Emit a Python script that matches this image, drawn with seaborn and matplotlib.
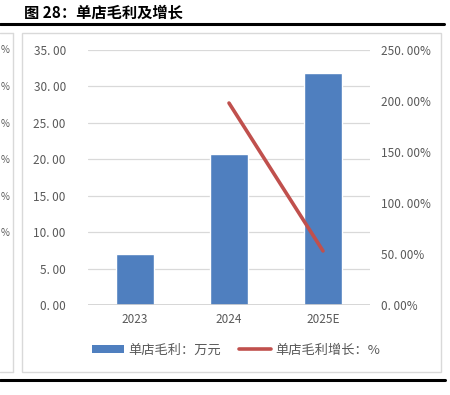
import matplotlib
matplotlib.use('Agg')
import matplotlib.pyplot as plt
from matplotlib.lines import Line2D
from matplotlib.patches import Patch, Rectangle
import seaborn as sns
import pandas as pd

# data
years = ['2023', '2024', '2025E']
gross_profit = [7.0, 20.7, 31.8]          # 万元
growth_years = ['2024', '2025E']
growth_pct = [198.0, 53.0]                 # %

left_ticks = [0, 5, 10, 15, 20, 25, 30, 35]
right_ticks = [0, 50, 100, 150, 200, 250]

sns.set_theme(style='white')
plt.rcParams['font.family'] = ['Noto Sans CJK SC', 'DejaVu Sans']

BLUE = '#4f7fbf'
RED = '#c0504d'
GREY = '#595959'

fig = plt.figure(figsize=(4.5, 3.95), dpi=100)
W, H = 450, 395


def fx(px):
    return px / W


def fy(py):
    return 1 - py / H


# title + rules
fig.text(fx(24), fy(13), '图 28：单店毛利及增长', fontsize=11, fontweight='bold',
         color='black', va='center', ha='left')
fig.add_artist(Line2D([fx(0), fx(444)], [fy(24), fy(24)], color='black', lw=2.2))
fig.add_artist(Line2D([fx(0), fx(445)], [fy(380), fy(380)], color='black', lw=2.2))

# chart frame and the clipped neighbour frame
fig.add_artist(Rectangle((fx(22), fy(372)), fx(441 - 22), (372 - 33) / H,
                         fill=False, edgecolor='#d9d9d9', lw=1))
fig.add_artist(Line2D([fx(13), fx(13)], [fy(33), fy(372)], color='#d9d9d9', lw=1))
fig.add_artist(Line2D([fx(0), fx(13)], [fy(33), fy(33)], color='#d9d9d9', lw=1))
fig.add_artist(Line2D([fx(0), fx(13)], [fy(372), fy(372)], color='#d9d9d9', lw=1))
for py in [50, 87, 124, 160, 197, 233]:
    fig.text(fx(0.5), fy(py), '%', fontsize=7, color=GREY, ha='left', va='center')

ax = fig.add_axes([fx(88), fy(305), fx(370 - 88), (305 - 50) / H])
df = pd.DataFrame({'year': years, 'gp': gross_profit})
sns.barplot(data=df, x='year', y='gp', color=BLUE, width=0.4, ax=ax,
            saturation=1, zorder=3)
ax.set_xlim(-0.5, 2.5)
ax.set_ylim(0, 35)
ax.set_yticks(left_ticks)
ax.set_yticklabels([f'{v:.2f}'.replace('.', '. ') for v in left_ticks])
ax.yaxis.grid(True, color='#d9d9d9', lw=0.9, zorder=0)
ax.set_axisbelow(True)
ax.set_xlabel('')
ax.set_ylabel('')
for s in ax.spines.values():
    s.set_visible(False)
ax.axhline(0, color='#d0d0d0', lw=1.2, zorder=4)
ax.tick_params(axis='both', length=0, labelsize=8.5, colors=GREY)
ax.tick_params(axis='y', pad=16)
ax.tick_params(axis='x', pad=6)

ax2 = ax.twinx()
xpos = [years.index(y) for y in growth_years]
sns.lineplot(x=xpos, y=growth_pct, color=RED, lw=2.6, ax=ax2)
ax2.set_ylim(0, 250)
ax2.set_yticks(right_ticks)
ax2.set_yticklabels([f'{v:.2f}'.replace('.', '. ') + '%' for v in right_ticks])
ax2.tick_params(axis='y', length=0, labelsize=8.5, colors=GREY, pad=8)
ax2.set_ylabel('')
for s in ax2.spines.values():
    s.set_visible(False)
ax.set_xlim(-0.5, 2.5)

handles = [Patch(facecolor=BLUE, edgecolor='none'),
           Line2D([0], [0], color=RED, lw=2.6)]
labels = ['单店毛利：万元', '单店毛利增长：%']
fig.legend(handles, labels, loc='center', bbox_to_anchor=(fx(236), fy(350)),
           ncol=2, frameon=False, fontsize=9.5, labelcolor=GREY,
           handlelength=2.4, handleheight=0.5, columnspacing=1.4, handletextpad=0.3)

fig.savefig('out.png', dpi=100)
